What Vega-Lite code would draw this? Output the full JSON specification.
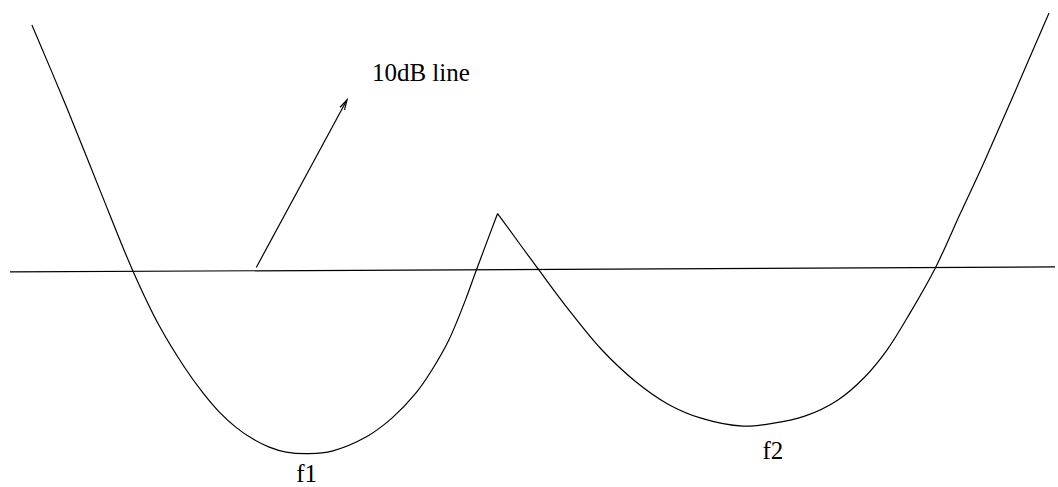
{
  "$schema": "https://vega.github.io/schema/vega-lite/v6.json",
  "width": 1058,
  "height": 487,
  "autosize": {"type": "fit", "contains": "padding"},
  "padding": 0,
  "background": "white",
  "config": {"view": {"stroke": null}},
  "datasets": {
    "lines": [
      {"seg": "left", "i": 1, "x": 32, "y": 25},
      {"seg": "left", "i": 2, "x": 67, "y": 108},
      {"seg": "left", "i": 3, "x": 100, "y": 190},
      {"seg": "left", "i": 4, "x": 133.5, "y": 272},
      {"seg": "left", "i": 5, "x": 160, "y": 327},
      {"seg": "left", "i": 6, "x": 185, "y": 368},
      {"seg": "left", "i": 7, "x": 203, "y": 393},
      {"seg": "left", "i": 8, "x": 220, "y": 413},
      {"seg": "left", "i": 9, "x": 237, "y": 428.5},
      {"seg": "left", "i": 10, "x": 253, "y": 439.5},
      {"seg": "left", "i": 11, "x": 270, "y": 448},
      {"seg": "left", "i": 12, "x": 287, "y": 453},
      {"seg": "left", "i": 13, "x": 310, "y": 454.5},
      {"seg": "left", "i": 14, "x": 333, "y": 452},
      {"seg": "left", "i": 15, "x": 367, "y": 438},
      {"seg": "left", "i": 16, "x": 393, "y": 419},
      {"seg": "left", "i": 17, "x": 417, "y": 394},
      {"seg": "left", "i": 18, "x": 433, "y": 371},
      {"seg": "left", "i": 19, "x": 450, "y": 341},
      {"seg": "left", "i": 20, "x": 467, "y": 300},
      {"seg": "left", "i": 21, "x": 477, "y": 272.5},
      {"seg": "left", "i": 22, "x": 499, "y": 214},
      {"seg": "right", "i": 1, "x": 499, "y": 214},
      {"seg": "right", "i": 2, "x": 540, "y": 270},
      {"seg": "right", "i": 3, "x": 570, "y": 310},
      {"seg": "right", "i": 4, "x": 603, "y": 350},
      {"seg": "right", "i": 5, "x": 637, "y": 382},
      {"seg": "right", "i": 6, "x": 670, "y": 405},
      {"seg": "right", "i": 7, "x": 703, "y": 419},
      {"seg": "right", "i": 8, "x": 745, "y": 427},
      {"seg": "right", "i": 9, "x": 773, "y": 424.5},
      {"seg": "right", "i": 10, "x": 807, "y": 417},
      {"seg": "right", "i": 11, "x": 840, "y": 401},
      {"seg": "right", "i": 12, "x": 867, "y": 378},
      {"seg": "right", "i": 13, "x": 890, "y": 350},
      {"seg": "right", "i": 14, "x": 913, "y": 313},
      {"seg": "right", "i": 15, "x": 938, "y": 268.5},
      {"seg": "right", "i": 16, "x": 963, "y": 214},
      {"seg": "right", "i": 17, "x": 988, "y": 160},
      {"seg": "right", "i": 18, "x": 1052, "y": 13}
    ],
    "straight": [
      {"seg": "hline", "i": 1, "x": 10, "y": 272.5},
      {"seg": "hline", "i": 2, "x": 1058, "y": 267.5},
      {"seg": "arrow", "i": 1, "x": 257, "y": 268},
      {"seg": "arrow", "i": 2, "x": 348, "y": 100},
      {"seg": "head", "i": 1, "x": 341, "y": 107.5},
      {"seg": "head", "i": 2, "x": 348, "y": 100},
      {"seg": "head", "i": 3, "x": 345.5, "y": 110}
    ],
    "labels": [
      {"label": "10dB line", "x": 373, "y": 81, "align": "left"},
      {"label": "f1", "x": 307.5, "y": 483, "align": "center"},
      {"label": "f2", "x": 775, "y": 460, "align": "center"}
    ]
  },
  "layer": [
    {
      "data": {"name": "lines"},
      "mark": {"type": "line", "interpolate": "catmull-rom", "color": "#000000", "strokeWidth": 1.2},
      "encoding": {
        "x": {"field": "x", "type": "quantitative", "scale": {"domain": [0, 1058], "nice": false, "zero": false}, "axis": null},
        "y": {"field": "y", "type": "quantitative", "scale": {"domain": [0, 487], "reverse": true, "nice": false, "zero": false}, "axis": null},
        "detail": {"field": "seg"},
        "order": {"field": "i", "type": "quantitative"}
      }
    },
    {
      "data": {"name": "straight"},
      "mark": {"type": "line", "interpolate": "linear", "color": "#000000", "strokeWidth": 1.2},
      "encoding": {
        "x": {"field": "x", "type": "quantitative", "scale": {"domain": [0, 1058], "nice": false, "zero": false}, "axis": null},
        "y": {"field": "y", "type": "quantitative", "scale": {"domain": [0, 487], "reverse": true, "nice": false, "zero": false}, "axis": null},
        "detail": {"field": "seg"},
        "order": {"field": "i", "type": "quantitative"}
      }
    },
    {
      "data": {"name": "labels"},
      "transform": [{"filter": "datum.align == 'left'"}],
      "mark": {"type": "text", "align": "left", "baseline": "alphabetic", "font": "Liberation Serif", "fontSize": 25, "color": "#000000"},
      "encoding": {
        "x": {"field": "x", "type": "quantitative"},
        "y": {"field": "y", "type": "quantitative"},
        "text": {"field": "label"}
      }
    },
    {
      "data": {"name": "labels"},
      "transform": [{"filter": "datum.align == 'center'"}],
      "mark": {"type": "text", "align": "center", "baseline": "alphabetic", "font": "Liberation Serif", "fontSize": 25, "color": "#000000"},
      "encoding": {
        "x": {"field": "x", "type": "quantitative"},
        "y": {"field": "y", "type": "quantitative"},
        "text": {"field": "label"}
      }
    }
  ]
}
